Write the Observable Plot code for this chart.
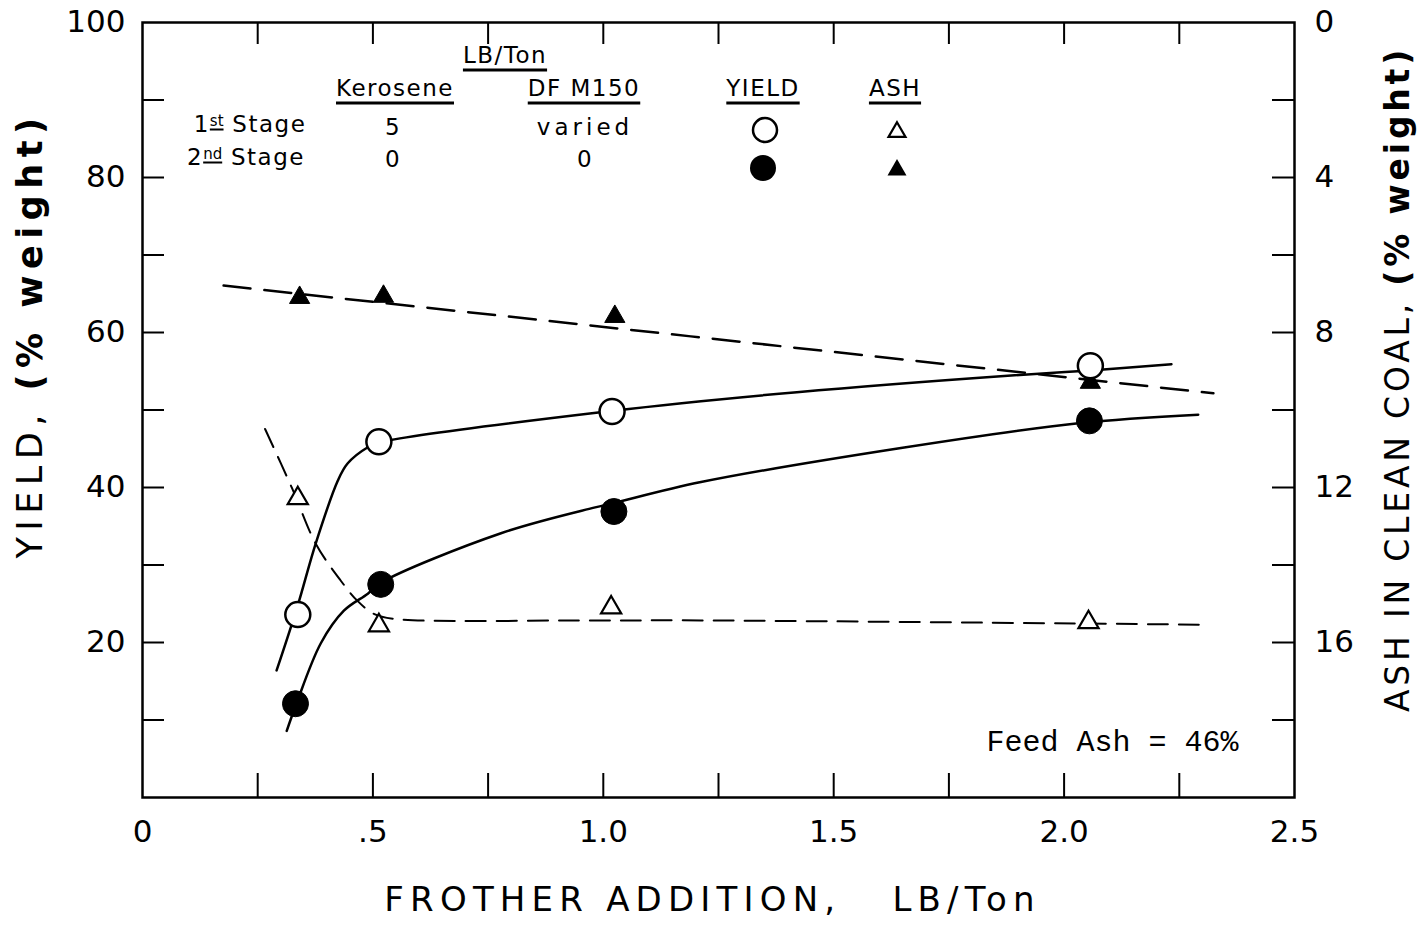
<!DOCTYPE html>
<html><head><meta charset="utf-8">
<script src="https://cdn.jsdelivr.net/npm/d3@7"></script>
<script src="https://cdn.jsdelivr.net/npm/@observablehq/plot@0.6"></script>
<style>
body{margin:0;background:#fff;}
#wrap{position:relative;width:1422px;height:927px;overflow:hidden;background:#fff;font-family:"DejaVu Sans",sans-serif;}
#wrap > svg{position:absolute;left:0;top:0;}
.lg{position:absolute;transform:translate(-50%,-50%);font-size:23px;white-space:nowrap;color:#000;line-height:1;letter-spacing:1.5px;}
.u{text-decoration:underline;text-decoration-thickness:2.5px;text-underline-offset:6px;}
.sym{position:absolute;overflow:visible;}
</style></head><body><div id="wrap"></div>
<script>
// ---- measured points ----
const frotherX1 = [0.337, 0.513, 1.019, 2.057];   // 1st stage yield (open circles)
const yield1    = [23.6, 45.9, 49.8, 55.7];
const frotherX2 = [0.332, 0.517, 1.023, 2.055];   // 2nd stage yield (filled circles)
const yield2    = [12.1, 27.5, 36.9, 48.6];
const ashX1     = [0.337, 0.513, 1.017, 2.053];   // 1st stage ash (open triangles)
const ash1      = [12.28, 15.56, 15.10, 15.48];
const ashX2     = [0.341, 0.523, 1.025, 2.057];   // 2nd stage ash (filled triangles)
const ash2      = [7.10, 7.07, 7.59, 9.29];

// ---- hand-drawn fitted curves ----
const fitYield1X = [0.291, 0.337, 0.376, 0.424, 0.445, 0.489, 0.513, 1.021, 1.420, 1.870, 2.057, 2.233];
const fitYield1  = [16.4, 24.8, 32.8, 40.9, 43.1, 45.2, 45.8, 49.9, 52.3, 54.4, 55.1, 55.9];
const fitYield2X = [0.313, 0.334, 0.387, 0.437, 0.489, 0.517, 0.778, 0.980, 1.023, 1.212, 1.646, 2.031, 2.291];
const fitYield2  = [8.6, 12.1, 19.9, 24.1, 26.3, 27.7, 34.1, 37.4, 38.0, 40.7, 45.1, 48.3, 49.4];
const fitAsh1X   = [0.266, 0.325, 0.376, 0.430, 0.466, 0.502, 0.546, 0.967, 1.212, 2.302];
const fitAsh1    = [10.49, 12.03, 13.45, 14.40, 14.92, 15.26, 15.39, 15.43, 15.43, 15.54];
const fitAsh2X   = [0.176, 1.190, 2.324];
const fitAsh2    = [6.79, 8.10, 9.57];

// ---- ticks ----
const xTickValues = [0, 0.5, 1.0, 1.5, 2.0, 2.5];
const xTickText   = ["0", ".5", "1.0", "1.5", "2.0", "2.5"];
const xMinorTicks = [0.25, 0.5, 0.75, 1.0, 1.25, 1.5, 1.75, 2.0, 2.25];
const yTickValues = [20, 40, 60, 80, 100];
const ashTickValues = [0, 4, 8, 12, 16];
const yMinorTicks = [10, 20, 30, 40, 50, 60, 70, 80, 90];

// ash axis runs 0 (top) .. 20 (bottom) against yield 100 .. 0
const ashToY = a => 100 - 5 * a;

const zip = (xs, ys, k) => xs.map((x, i) => ({x, [k]: ys[i]}));
const s1 = zip(frotherX1, yield1, "v");
const s2 = zip(frotherX2, yield2, "v");
const a1 = zip(ashX1, ash1, "a");
const a2 = zip(ashX2, ash2, "a");
const f1 = zip(fitYield1X, fitYield1, "v");
const f2 = zip(fitYield2X, fitYield2, "v");
const fa1 = zip(fitAsh1X, fitAsh1, "a");
const fa2 = zip(fitAsh2X, fitAsh2, "a");

const W = 1422, H = 927, mL = 142, mR = 128, mT = 22, mB = 130;
const pw = W - mL - mR, ph = H - mT - mB;

const xTitle = "FROTHER ADDITION,   LB/Ton";
const yTitle = "YIELD, (% weight)";
const ashTitle = "ASH IN CLEAN COAL, (% weight)";

const chart = Plot.plot({
  width: W, height: H,
  marginLeft: mL, marginRight: mR, marginTop: mT, marginBottom: mB,
  x: {domain: [0, 2.5]},
  y: {domain: [0, 100]},
  style: {fontFamily: "DejaVu Sans, sans-serif", background: "white", color: "black", overflow: "visible"},
  marks: [
    // inward tick marks
    Plot.gridX(xMinorTicks, {stroke: "black", strokeOpacity: 1, strokeWidth: 2, insetTop: ph - 24}),
    Plot.gridX(xMinorTicks, {stroke: "black", strokeOpacity: 1, strokeWidth: 2, insetBottom: ph - 22}),
    Plot.gridY(yMinorTicks, {stroke: "black", strokeOpacity: 1, strokeWidth: 2, insetRight: pw - 22}),
    Plot.gridY(yMinorTicks, {stroke: "black", strokeOpacity: 1, strokeWidth: 2, insetLeft: pw - 22}),
    Plot.frame({stroke: "black", strokeWidth: 2.5}),
    // tick labels
    Plot.axisX(xTickValues, {anchor: "bottom", tickSize: 0, tickPadding: 22, fontSize: 31, label: null,
      tickFormat: d => xTickText[xTickValues.indexOf(d)]}),
    Plot.axisY(yTickValues, {anchor: "left", tickSize: 0, tickPadding: 17, fontSize: 31, label: null}),
    Plot.axisY(ashTickValues.map(ashToY), {anchor: "right", tickSize: 0, tickPadding: 20, fontSize: 31, label: null,
      tickFormat: d => String(Math.round((100 - d) / 5))}),
    // axis titles
    Plot.text([xTitle], {text: d => d, frameAnchor: "bottom", textAnchor: "middle", dx: -6, dy: 113, fontSize: 34}),
    Plot.text([yTitle], {text: d => d, frameAnchor: "left", textAnchor: "middle", dx: -112, dy: -75, rotate: -90, fontSize: 35}),
    Plot.text([ashTitle], {text: d => d, frameAnchor: "right", textAnchor: "middle", dx: 104, dy: -31, rotate: -90, fontSize: 33}),
    Plot.text(["Feed Ash = 46%"], {text: d => d, frameAnchor: "bottom-right", dx: -56, dy: -47, textAnchor: "end",
      fontFamily: "Liberation Mono, monospace", fontSize: 30}),
    // fitted curves
    Plot.line(fa2, {x: "x", y: d => ashToY(d.a), stroke: "black", strokeWidth: 2.5, strokeDasharray: "27,14"}),
    Plot.line(fa1, {x: "x", y: d => ashToY(d.a), curve: "catmull-rom", stroke: "black", strokeWidth: 2, strokeDasharray: "20,11"}),
    Plot.line(f1, {x: "x", y: "v", curve: "catmull-rom", stroke: "black", strokeWidth: 2.5}),
    Plot.line(f2, {x: "x", y: "v", curve: "catmull-rom", stroke: "black", strokeWidth: 2.5}),
    // data points
    Plot.dot(a2, {x: "x", y: d => ashToY(d.a), symbol: "triangle", r: 7.5, fill: "black", stroke: "black", strokeWidth: 1}),
    Plot.dot(a1, {x: "x", y: d => ashToY(d.a), symbol: "triangle", r: 7.5, fill: "white", stroke: "black", strokeWidth: 2.2}),
    Plot.dot(s1, {x: "x", y: "v", r: 12.5, fill: "white", stroke: "black", strokeWidth: 2.5}),
    Plot.dot(s2, {x: "x", y: "v", r: 13, fill: "black", stroke: "black", strokeWidth: 1})
  ]
});

// letter-spacing / weight for the hand-lettered axis titles
const spacing = {[xTitle]: 6.2, [yTitle]: 6.5, [ashTitle]: 3.8};
d3.select(chart).selectAll("text").each(function() {
  const t = this.textContent;
  if (t in spacing) {
    this.style.letterSpacing = spacing[t] + "px";
    this.style.whiteSpace = "pre";
    const i = t.indexOf("(");
    if (i > 0) {
      this.textContent = "";
      const a = document.createElementNS("http://www.w3.org/2000/svg", "tspan");
      a.textContent = t.slice(0, i);
      const b = document.createElementNS("http://www.w3.org/2000/svg", "tspan");
      b.textContent = t.slice(i);
      b.setAttribute("font-weight", "bold");
      this.appendChild(a); this.appendChild(b);
    }
  }
});

const wrap = document.getElementById("wrap");
wrap.appendChild(chart);

// ---- in-plot legend table ----
const legendText = [
  {t: "LB/Ton", x: 505, y: 55, u: true},
  {t: "Kerosene", x: 395, y: 88, u: true},
  {t: "DF M150", x: 584, y: 88, u: true},
  {t: "YIELD", x: 763, y: 88, u: true},
  {t: "ASH", x: 895, y: 88, u: true},
  {t: "5", x: 393, y: 127},
  {t: "varied", x: 585, y: 127, ls: 4},
  {t: "0", x: 393, y: 159},
  {t: "0", x: 585, y: 159}
];
for (const d of legendText) {
  const s = document.createElement("div");
  s.className = "lg" + (d.u ? " u" : "");
  s.style.left = d.x + "px"; s.style.top = d.y + "px";
  if (d.ls) s.style.letterSpacing = d.ls + "px";
  s.textContent = d.t;
  wrap.appendChild(s);
}
const stages = [
  {n: "1", sup: "st", x: 250, y: 124},
  {n: "2", sup: "nd", x: 246, y: 157}
];
for (const d of stages) {
  const s = document.createElement("div");
  s.className = "lg";
  s.style.left = d.x + "px"; s.style.top = d.y + "px";
  s.innerHTML = d.n + '<span class="u" style="font-size:15px;vertical-align:6px;text-underline-offset:3px;text-decoration-thickness:2px;letter-spacing:0">' + d.sup + '</span> Stage';
  wrap.appendChild(s);
}
const ns = "http://www.w3.org/2000/svg";
const sym = document.createElementNS(ns, "svg");
sym.setAttribute("width", W); sym.setAttribute("height", H);
sym.setAttribute("class", "sym");
sym.style.left = "0px"; sym.style.top = "0px"; sym.style.pointerEvents = "none";
const tri = (cx, cy, s) => `M${cx},${cy - s * 0.577}L${cx + s / 2},${cy + s * 0.289}L${cx - s / 2},${cy + s * 0.289}Z`;
sym.innerHTML =
  `<circle cx="765" cy="130" r="12" fill="white" stroke="black" stroke-width="2.5"/>` +
  `<circle cx="763" cy="168" r="13" fill="black"/>` +
  `<path d="${tri(897, 132, 17)}" fill="white" stroke="black" stroke-width="2.2"/>` +
  `<path d="${tri(897, 170, 19)}" fill="black"/>`;
wrap.appendChild(sym);
</script></body></html>
